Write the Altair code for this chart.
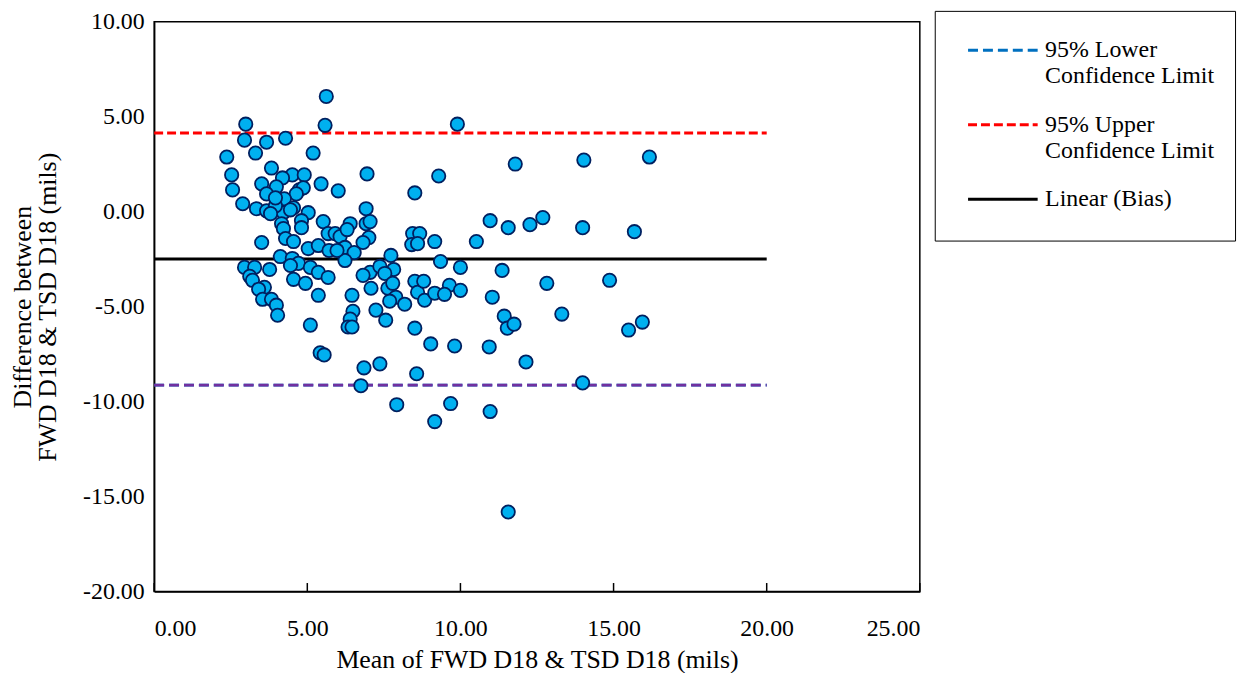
import altair as alt
import pandas as pd

# Scatter: mean (x) and difference (y)
mean_vals = [
    2.99, 5.58, 5.62, 2.95, 3.67, 4.29, 3.31, 2.37, 5.19, 3.83,
    2.53, 4.51, 4.90, 4.19, 5.45, 3.51, 2.56, 3.99, 3.67, 4.74,
    4.87, 4.64, 4.25, 2.89, 3.34, 3.67, 4.22, 5.03, 4.55, 3.96,
    3.80, 5.52, 6.01, 6.95, 8.51, 6.92, 4.16, 4.81, 4.22, 4.81,
    5.68, 3.51, 4.29, 4.55, 5.03, 5.36, 5.71, 4.12, 4.51, 4.71,
    4.45, 5.10, 5.36, 5.68, 2.95, 3.28, 3.77, 3.12, 3.21, 4.55,
    4.94, 3.60, 3.41, 3.54, 3.83, 3.99, 4.03, 5.36, 5.10, 6.40,
    6.92, 7.05, 5.91, 6.07, 6.30, 7.01, 8.44, 8.67, 8.41, 8.60,
    6.82, 6.23, 6.53, 6.23, 7.73, 7.05, 7.37, 6.82, 7.82, 7.53,
    7.08, 7.63, 7.79, 7.89, 7.69, 8.18, 8.51, 8.60, 8.83, 6.46,
    6.49, 6.40, 6.33, 6.46, 7.24, 7.56, 8.51, 5.42, 5.55, 6.85,
    7.37, 8.57, 10.97, 11.56, 12.27, 12.69, 9.16, 10.52, 9.35, 10.00,
    11.36, 8.80, 9.64, 9.16, 9.48, 10.00, 11.04, 12.82, 11.43, 11.53,
    11.75, 13.31, 9.03, 9.81, 10.94, 6.75, 7.92, 9.16, 9.68, 10.97,
    11.56, 12.14, 13.99, 14.87, 15.49, 15.94, 14.03, 16.17, 13.99, 15.68,
    11.79, 9.29, 9.90, 5.97, 3.96, 4.45,
]
diff_vals = [
    4.61, 4.55, 6.07, 3.77, 3.66, 3.87, 3.09, 2.88, 3.09, 2.30,
    1.94, 1.94, 1.94, 1.78, 1.47, 1.47, 1.15, 1.31, 0.94, 1.15,
    1.26, 0.94, 0.68, 0.42, 0.16, 0.05, -0.05, -0.05, 0.21, 0.31,
    -0.10, -0.52, 1.10, 1.99, 0.99, 0.16, -0.63, -0.47, -0.89, -0.84,
    -1.15, -1.62, -1.41, -1.57, -1.94, -1.78, -2.04, -2.36, -2.46, -2.72,
    -2.83, -2.93, -3.19, -3.46, -2.93, -2.93, -3.04, -3.40, -3.61, -3.56,
    -3.77, -3.98, -4.08, -4.61, -4.61, -4.92, -5.45, -4.40, -5.97, -0.63,
    -0.63, -0.52, -1.15, -1.31, -0.94, -1.36, -1.15, -1.15, -1.73, -1.68,
    -1.62, -1.88, -2.15, -2.57, -2.30, -3.19, -2.88, -3.35, -3.04, -3.25,
    -4.03, -4.03, -3.77, -4.50, -4.71, -4.87, -3.66, -4.24, -4.66, -4.40,
    -5.24, -5.65, -6.07, -6.07, -5.18, -5.71, -6.13, -7.43, -7.54, -8.22,
    -8.01, -8.53, -0.47, -0.84, -0.68, -0.31, -1.57, -1.57, -2.62, -2.93,
    -3.09, -3.66, -3.87, -4.29, -4.35, -4.14, -4.50, -3.77, -5.50, -6.13,
    -5.92, -5.39, -6.96, -7.07, -7.12, -9.16, -10.16, -11.05, -10.10, -10.52,
    -15.81, -7.91, -9.01, -3.61, -6.23, -5.81, 2.72, 2.88, -0.84, -1.05,
    2.51, 1.88, 4.61, -2.04, 0.73, 0.10,
]

# Reference lines
line_names = ["95% Lower|Confidence Limit", "95% Upper|Confidence Limit", "Linear (Bias)| "]
line_levels = [-9.13, 4.15, -2.49]
line_start = [0, 0, 0]
line_end = [20, 20, 20]
legend_colors = ["#0070C0", "#FF0000", "#000000"]
line_dashes = [[10, 5], [9, 4], [1, 0]]
lower_line_color = "#7030A0"

x_ticks = [0, 5, 10, 15, 20, 25]
y_ticks = [-20, -15, -10, -5, 0, 5, 10]
x_tick_len = 0.45  # inward tick length, in y units

pts = pd.DataFrame({"mean": mean_vals, "diff": diff_vals})
lines = pd.DataFrame({"name": line_names, "level": line_levels,
                      "x0": line_start, "x1": line_end})
ticks_df = pd.DataFrame({"t": x_ticks, "y0": [y_ticks[0]] * len(x_ticks),
                         "y1": [y_ticks[0] + x_tick_len] * len(x_ticks)})

FONT = "Liberation Serif"
# a little trailing space after "Limit" so the legend frame is a bit wider
PAD = "\u00a0" * 3 + "\u200b"
LEGEND_LABEL_EXPR = "split(replace(datum.label, 'Limit', 'Limit" + PAD + "'), '|')"
NUM_EXPR = "(datum.value < 0 ? '-' : '') + format(abs(datum.value), '.2f')"

xscale = alt.Scale(domain=[0, 25], nice=False, zero=False)
yscale = alt.Scale(domain=[-20, 10], nice=False, zero=False)

x_axis = alt.Axis(title="Mean of FWD D18 & TSD D18 (mils)", values=x_ticks, labelExpr=NUM_EXPR,
                  grid=False, ticks=False, labelPadding=25, titlePadding=6)
y_axis = alt.Axis(title=["Difference between", "FWD D18 & TSD D18 (mils)"], values=y_ticks,
                  labelExpr=NUM_EXPR, grid=False, ticks=False, labelPadding=10,
                  titlePadding=22, titleLineHeight=25)

ref = alt.Chart(lines).mark_rule(strokeWidth=3).encode(
    x=alt.X("x0:Q", scale=xscale, axis=x_axis),
    x2="x1:Q",
    y=alt.Y("level:Q", scale=yscale, axis=y_axis),
    color=alt.Color("name:N", scale=alt.Scale(domain=line_names, range=legend_colors),
                    legend=alt.Legend(title=None, labelExpr=LEGEND_LABEL_EXPR)),
    strokeDash=alt.StrokeDash("name:N", scale=alt.Scale(domain=line_names, range=line_dashes),
                              legend=alt.Legend(title=None, labelExpr=LEGEND_LABEL_EXPR)),
)

lower_overlay = alt.Chart(lines).transform_filter(
    alt.datum.name == line_names[0]
).mark_rule(strokeWidth=3, strokeDash=[10, 5], color=lower_line_color).encode(
    x=alt.X("x0:Q", scale=xscale), x2="x1:Q", y=alt.Y("level:Q", scale=yscale)
)

inner_ticks = alt.Chart(ticks_df).mark_rule(strokeWidth=1.5, color="black").encode(
    x=alt.X("t:Q", scale=xscale), y=alt.Y("y0:Q", scale=yscale), y2="y1:Q"
)

points = alt.Chart(pts).mark_circle(size=180, color="#00B0F0", stroke="#002060",
                                    strokeWidth=1.8, opacity=1).encode(
    x=alt.X("mean:Q", scale=xscale),
    y=alt.Y("diff:Q", scale=yscale),
)

chart = alt.layer(ref, lower_overlay, inner_ticks, points).properties(
    width=770, height=573,
    autosize=alt.AutoSizeParams(type="none"),
    padding={"left": 147, "top": 12, "right": 325, "bottom": 80},
).configure_view(
    stroke="black", strokeWidth=1.5
).configure_axis(
    labelFont=FONT, titleFont=FONT, labelFontSize=24, titleFontSize=26,
    labelColor="black", titleColor="black", titleFontWeight="normal",
    domainColor="black", domainWidth=1.5,
).configure_legend(
    orient="none", legendX=785, legendY=-11,
    strokeColor="black", padding=3, symbolOffset=29, symbolType="stroke", symbolSize=4900,
    symbolStrokeWidth=3, labelFont=FONT, labelFontSize=24, labelColor="black",
    labelLimit=400, labelOffset=6, rowPadding=0,
)

chart.save("out.html", embed_options={"renderer": "svg", "actions": False})
